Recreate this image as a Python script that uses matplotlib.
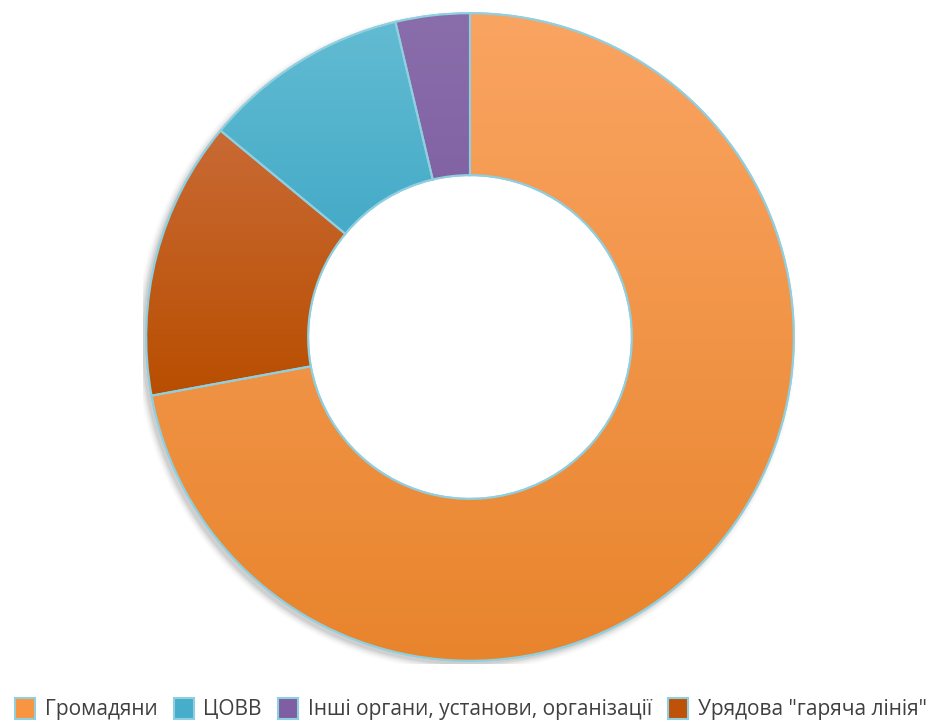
import numpy as np
import matplotlib
matplotlib.use('Agg')
import matplotlib.pyplot as plt
from matplotlib.patches import Patch, PathPatch
from matplotlib.colors import LinearSegmentedColormap

plt.rcParams['font.family'] = ['Open Sans', 'DejaVu Sans']

# data, clockwise from 12 o'clock
labels = ['Громадяни', 'Урядова "гаряча лінія"', 'ЦОВВ', 'Інші органи, установи, організації']
values = [72.1, 13.9, 10.3, 3.7]
top_colors = ['#FAA462', '#C96A35', '#62BBD2', '#8A6DAB']
bottom_colors = ['#E8842C', '#B84E00', '#37A3C3', '#7A5A9E']
legend_colors = ['#F99540', '#BE5209', '#46AECB', '#7F5FA3']
legend_order = [0, 2, 3, 1]
edge = '#8FCFE0'

W, H = 933, 724
fig = plt.figure(figsize=(W / 100, H / 100), dpi=100)
cx, cy, r = 470, 337, 327
ax = fig.add_axes([(cx - r) / W, (H - cy - r) / H, 2 * r / W, 2 * r / H])
ax.axis('off')

# soft shadow
for i, a in enumerate(np.linspace(0.05, 0.01, 6)):
    sh = plt.Circle((-0.012, -0.012), 1.0 + 0.004 * i, color='black', alpha=a, zorder=0, lw=0)
    ax.add_patch(sh)

wedges, _ = ax.pie(values, startangle=90, counterclock=False, radius=1,
                   wedgeprops=dict(width=0.5, edgecolor=edge, linewidth=1.5),
                   colors=top_colors)

grad = np.linspace(0, 1, 256).reshape(-1, 1)
for w, c1, c2 in zip(wedges, top_colors, bottom_colors):
    w.set_zorder(2)
    path = w.get_path()
    verts = path.vertices
    y0, y1 = verts[:, 1].min(), verts[:, 1].max()
    x0, x1 = verts[:, 0].min(), verts[:, 0].max()
    cmap = LinearSegmentedColormap.from_list('g', [c2, c1])
    im = ax.imshow(grad, extent=[x0, x1, y0, y1], origin='lower', cmap=cmap,
                   aspect='auto', zorder=3, interpolation='bilinear')
    im.set_clip_path(w)
    w2 = PathPatch(path, transform=w.get_transform(), facecolor='none',
                   edgecolor=edge, linewidth=1.5, zorder=4)
    ax.add_patch(w2)
    w.set_facecolor('none')

ax.add_patch(plt.Circle((0, 0), 0.5, color='white', zorder=1.5))
ax.set_xlim(-1.01, 1.01)
ax.set_ylim(-1.01, 1.01)

handles = [Patch(facecolor=legend_colors[i], edgecolor=edge, linewidth=1.5) for i in legend_order]
leg = fig.legend(handles, [labels[i] for i in legend_order], loc='center',
                 bbox_to_anchor=(471 / W, 15 / H), ncol=4, frameon=False, fontsize=15,
                 handlelength=0.95, handleheight=1.2, handletextpad=0.45, columnspacing=0.8)
for t in leg.get_texts():
    t.set_color('#404040')

fig.savefig('out.png', dpi=100)
